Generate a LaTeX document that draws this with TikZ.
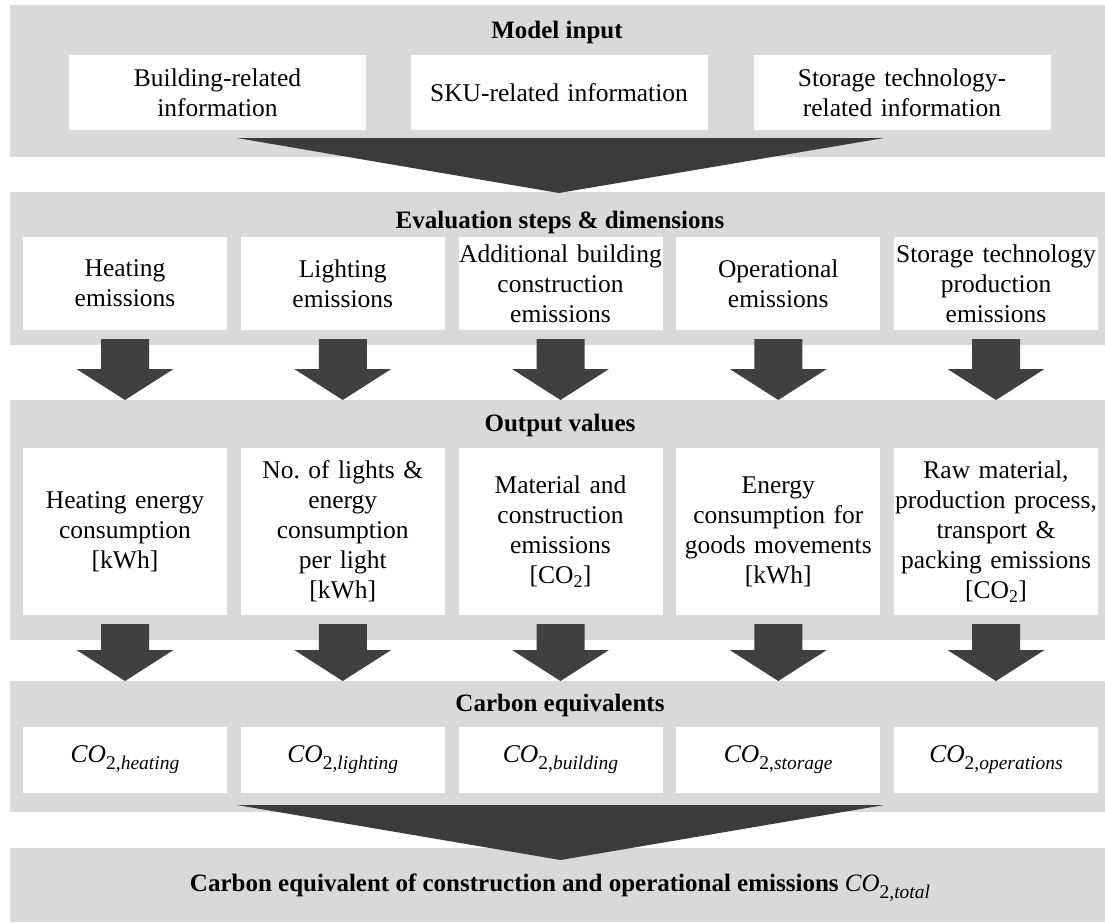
\documentclass[tikz,border=0pt]{standalone}
\usepackage{fontspec}
\setmainfont{Liberation Serif}
\usetikzlibrary{calc}
\frenchspacing
\definecolor{bandgray}{HTML}{D9D9D9}
\definecolor{arrowdark}{HTML}{404040}
\definecolor{bigdark}{HTML}{3B3B3B}
\newcommand{\cosub}[1]{{\mdseries\itshape CO}\raisebox{-0.28em}{\fontsize{19.5}{19.5}\selectfont\mdseries\upshape 2,\itshape #1}}
\tikzset{
  band/.style={fill=bandgray, draw=none, inner sep=0pt, outer sep=0pt, anchor=north west, minimum width=1095pt},
  wbox/.style={fill=white, draw=none, inner sep=0pt, outer sep=0pt, align=center, font=\fontsize{25.5}{30}\selectfont},
  boxA/.style={wbox, minimum width=297pt, minimum height=75pt, text width=290pt},
  boxB/.style={wbox, minimum width=204pt, minimum height=93pt, text width=204pt},
  boxC/.style={wbox, minimum width=204pt, minimum height=167pt, text width=204pt},
  boxD/.style={wbox, minimum width=204pt, minimum height=66pt, text width=204pt},
  title/.style={inner sep=0pt, font=\fontsize{25}{30}\selectfont\bfseries},
  arrowfill/.style={fill=arrowdark, draw=none},
  bigarrow/.style={fill=bigdark, draw=none},
}
\newcommand{\flowarrow}[2]{%
  \coordinate (#1tip) at (#1.south |- #2.north);
  \coordinate (#1top) at ($(#1.south)+(0,9)$);
  \fill[arrowfill] ($(#1top)+(-24,0)$) -- ($(#1top)+(24,0)$) -- ($(#1tip)+(24,-31)$)
    -- ($(#1tip)+(48.5,-31)$) -- (#1tip) -- ($(#1tip)+(-48.5,-31)$) -- ($(#1tip)+(-24,-31)$) -- cycle;}
\begin{document}
\begin{tikzpicture}[x=1pt,y=-1pt]
\useasboundingbox (0,0) rectangle (1105,922);
% bands
\node[band, minimum height=152pt] (band1) at (10,5) {};
\node[band, minimum height=153pt] (band2) at (10,192) {};
\node[band, minimum height=240pt] (band3) at (10,400) {};
\node[band, minimum height=131pt] (band4) at (10,681) {};
\node[band, minimum height=74pt] (band5) at (10,848) {};
% titles
\node[title] (t1) at (557,32) {Model input};
\node[title] (t2) at (560,222) {Evaluation steps \& dimensions};
\node[title] (t3) at (560,425) {Output values};
\node[title] (t4) at (560,705) {Carbon equivalents};
\node[title] (t5) at (560,888) {Carbon equivalent of construction and operational emissions \cosub{total}};
% row 1
\node[boxA] (in1) at (217.5,92.5) {Building-related\\information};
\node[boxA] (in2) at (559,92.5) {SKU-related information};
\node[boxA] (in3) at (902,92.5) {Storage technology-\\related information};
% big arrow 1
\coordinate (a1l) at (237,138);
\coordinate (a1r) at (884,138);
\coordinate (a1t) at ($(in2.south |- band2.north)+(0,1)$);
\fill[bigarrow] (a1l) -- (a1r) -- (a1t) -- cycle;
% row 2
\node[boxB] (e1) at (125,283.5) {Heating\\emissions};
\node[boxB] (e2) at (342.75,283.5) {Lighting\\emissions};
\node[boxB] (e3) at (560.5,283.5) {Additional building\\construction\\emissions};
\node[boxB] (e4) at (778.25,283.5) {Operational\\emissions};
\node[boxB] (e5) at (996,283.5) {Storage technology\\production\\emissions};
% row 3
\node[boxC] (o1) at (125,531.5) {Heating energy\\consumption\\{[kWh]}};
\node[boxC] (o2) at (342.75,531.5) {No.\ of lights \&\\energy\\consumption\\per light\\{[kWh]}};
\node[boxC] (o3) at (560.5,531.5) {Material and\\construction\\emissions\\{[CO\textsubscript{2}]}};
\node[boxC] (o4) at (778.25,531.5) {Energy\\consumption for\\goods movements\\{[kWh]}};
\node[boxC] (o5) at (996,531.5) {Raw material,\\production process,\\transport \&\\packing emissions\\{[CO\textsubscript{2}]}};
% row 4
\node[boxD] (c1) at (125,760) {\cosub{heating}};
\node[boxD] (c2) at (342.75,760) {\cosub{lighting}};
\node[boxD] (c3) at (560.5,760) {\cosub{building}};
\node[boxD] (c4) at (778.25,760) {\cosub{storage}};
\node[boxD] (c5) at (996,760) {\cosub{operations}};
% small arrows
\flowarrow{e1}{band3}\flowarrow{e2}{band3}\flowarrow{e3}{band3}\flowarrow{e4}{band3}\flowarrow{e5}{band3}
\flowarrow{o1}{band4}\flowarrow{o2}{band4}\flowarrow{o3}{band4}\flowarrow{o4}{band4}\flowarrow{o5}{band4}
% big arrow 2
\coordinate (a2l) at (237,805);
\coordinate (a2r) at (884,805);
\coordinate (a2t) at ($(c3.south |- band5.north)+(0,12)$);
\fill[bigarrow] (a2l) -- (a2r) -- (a2t) -- cycle;
\end{tikzpicture}
\end{document}
